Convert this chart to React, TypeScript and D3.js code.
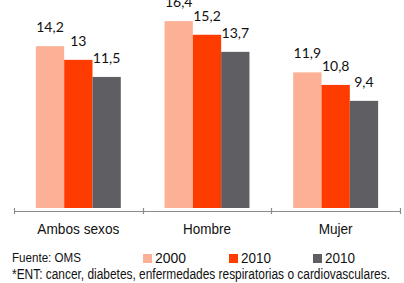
import React, { useEffect, useRef } from 'react';
import * as d3 from 'd3';

const categories = ['Ambos sexos', 'Hombre', 'Mujer'];
const seriesNames = ['2000', '2010', '2010 '];
const values2000 = [14.2, 16.4, 11.9];
const values2010a = [13, 15.2, 10.8];
const values2010b = [11.5, 13.7, 9.4];
const colors = ['#FCB196', '#FF3C00', '#5F5E63'];
const source = 'Fuente: OMS';
const footnote = '*ENT: cancer, diabetes, enfermedades respiratorias o cardiovasculares.';

const fmt = (v: number) => String(v).replace('.', ',');

const App: React.FC = () => {
  const svgRef = useRef<SVGSVGElement>(null);

  useEffect(() => {
    if (!svgRef.current) return;
    const svg = d3.select(svgRef.current);
    svg.selectAll('*').remove();

    const series = [values2000, values2010a, values2010b];
    const baseY = 208;

    const x0 = d3.scaleBand().domain(categories).range([14, 400]).padding(0);
    const pad = x0.bandwidth() * 0.17;
    const x1 = d3.scaleBand().domain(seriesNames).range([pad, x0.bandwidth() - pad]).padding(0);
    const y = d3.scaleLinear().domain([0, 18.25]).range([baseY, 0]);

    // bars + value labels
    series.forEach((vals, si) => {
      svg.append('g')
        .selectAll('rect')
        .data(vals)
        .enter()
        .append('rect')
        .attr('x', (_, i) => (x0(categories[i]) || 0) + (x1(seriesNames[si]) || 0))
        .attr('y', d => y(d))
        .attr('width', x1.bandwidth())
        .attr('height', d => baseY - y(d))
        .attr('fill', colors[si]);

      svg.append('g')
        .selectAll('text')
        .data(vals)
        .enter()
        .append('text')
        .text(d => fmt(d))
        .attr('x', (_, i) => (x0(categories[i]) || 0) + (x1(seriesNames[si]) || 0) + x1.bandwidth() / 2)
        .attr('y', d => y(d) - 14)
        .attr('text-anchor', 'middle')
        .attr('font-family', 'Lato, "Open Sans", sans-serif')
        .attr('font-size', 14)
        .attr('fill', '#111');
    });

    // axis
    const axis = svg.append('g').attr('stroke', '#8a8a8a').attr('stroke-width', 1.2);
    axis.append('line').attr('x1', 14).attr('x2', 400).attr('y1', 211.5).attr('y2', 211.5);
    const ticks = [...categories.map(c => x0(c) || 0), 400];
    axis.selectAll('.tick')
      .data(ticks)
      .enter()
      .append('line')
      .attr('x1', d => Math.round(d) + 0.5)
      .attr('x2', d => Math.round(d) + 0.5)
      .attr('y1', 208)
      .attr('y2', 214);

    const catWidths = [82, 48, 34];
    svg.append('g')
      .selectAll('text')
      .data(categories)
      .enter()
      .append('text')
      .text(d => d)
      .attr('x', d => (x0(d) || 0) + x0.bandwidth() / 2)
      .attr('y', 234)
      .attr('text-anchor', 'middle')
      .attr('font-family', '"Liberation Sans", Arial, sans-serif')
      .attr('font-size', 14.5)
      .attr('textLength', (_, i) => catWidths[i])
      .attr('lengthAdjust', 'spacingAndGlyphs')
      .attr('fill', '#111');

    // source
    svg.append('text')
      .text(source)
      .attr('x', 12)
      .attr('y', 262)
      .attr('font-family', '"Liberation Sans", Arial, sans-serif')
      .attr('font-size', 13.5)
      .attr('textLength', 69)
      .attr('lengthAdjust', 'spacingAndGlyphs')
      .attr('fill', '#111');

    // legend
    const legendX = [143, 229, 313];
    const legendW = [31, 30, 30];
    const lg = svg.append('g');
    seriesNames.forEach((name, i) => {
      lg.append('rect')
        .attr('x', legendX[i])
        .attr('y', 254)
        .attr('width', 9)
        .attr('height', 9)
        .attr('fill', colors[i]);
      lg.append('text')
        .text(name.trim())
        .attr('x', legendX[i] + 12)
        .attr('y', 263)
        .attr('font-family', '"Liberation Sans", Arial, sans-serif')
        .attr('font-size', 15)
        .attr('textLength', legendW[i])
        .attr('lengthAdjust', 'spacingAndGlyphs')
        .attr('fill', '#111');
    });

    // footnote
    svg.append('text')
      .text(footnote)
      .attr('x', 12)
      .attr('y', 279)
      .attr('font-family', '"Liberation Sans", Arial, sans-serif')
      .attr('font-size', 14)
      .attr('textLength', 378)
      .attr('lengthAdjust', 'spacingAndGlyphs')
      .attr('fill', '#111');
  }, []);

  return (
    <svg
      ref={svgRef}
      width={404}
      height={283}
      style={{ position: 'absolute', left: 0, top: 0, background: '#fff' }}
    />
  );
};

export default App;
